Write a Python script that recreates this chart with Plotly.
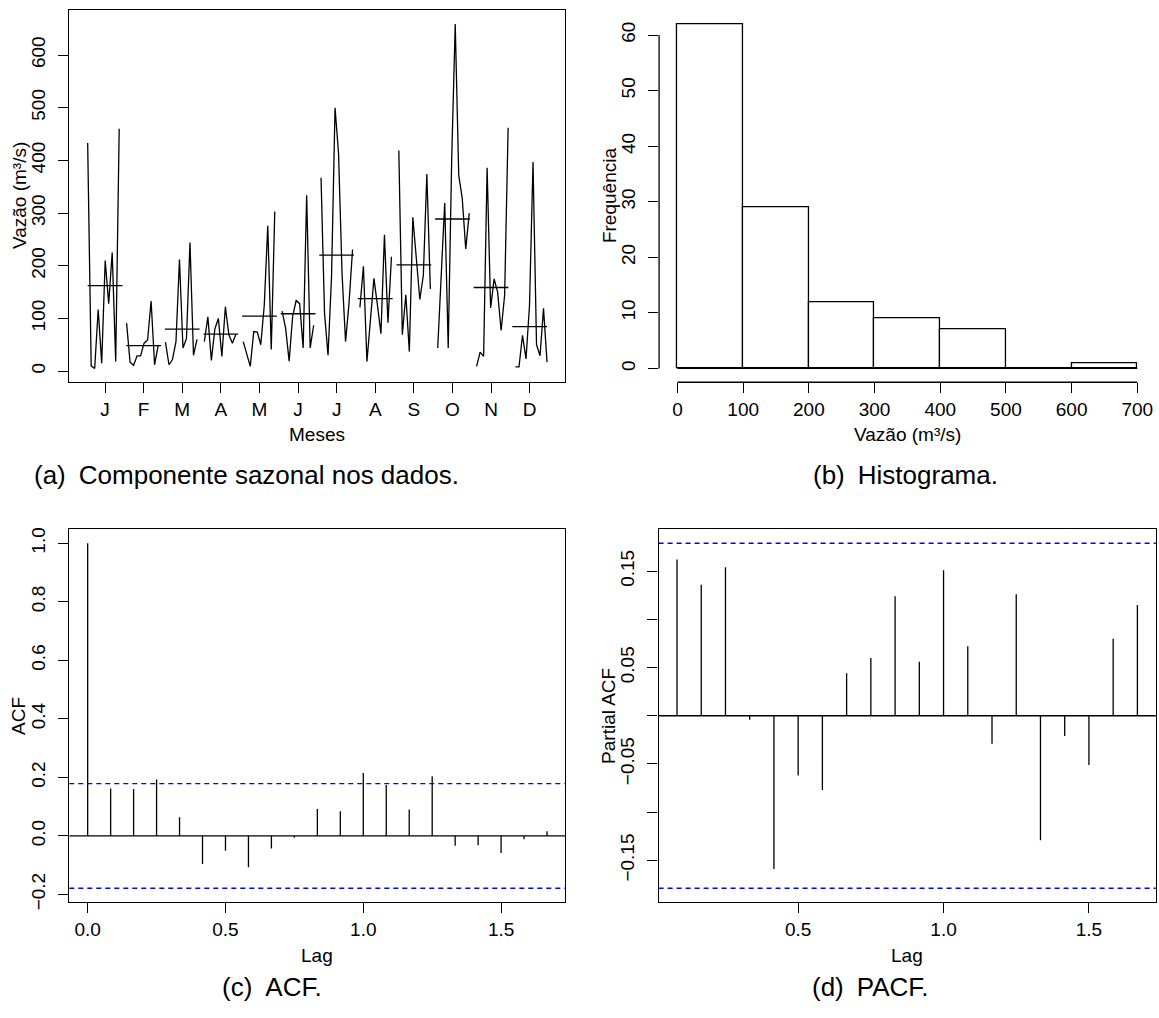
import numpy as np
import plotly.graph_objects as go

# ---- data -------------------------------------------------------------
month_labels = ["J", "F", "M", "A", "M", "J", "J", "A", "S", "O", "N", "D"]

# monthly flow (m³/s), ten years per calendar month
flow_jan = [433, 10, 5, 117, 15, 210, 128, 225, 18, 460]
flow_feb = [91, 17, 11, 29, 29, 53, 59, 133, 12, 48]
flow_mar = [55, 12, 22, 56, 212, 44, 62, 244, 30, 60]
flow_apr = [56, 103, 20, 80, 100, 28, 122, 69, 53, 70]
flow_may = [56, 34, 9, 75, 74, 50, 125, 276, 41, 303]
flow_jun = [114, 81, 19, 104, 134, 128, 44, 334, 44, 87]
flow_jul = [367, 110, 30, 180, 500, 413, 185, 56, 130, 231]
flow_aug = [121, 199, 18, 98, 176, 125, 71, 259, 92, 217]
flow_sep = [419, 69, 145, 37, 292, 205, 136, 182, 374, 156]
flow_oct = [44, 185, 319, 44, 405, 659, 372, 328, 232, 300]
flow_nov = [9, 36, 28, 386, 120, 175, 150, 77, 144, 462]
flow_dec = [8, 8, 68, 23, 125, 397, 50, 29, 119, 17]
flow_by_month = [flow_jan, flow_feb, flow_mar, flow_apr, flow_may, flow_jun,
                 flow_jul, flow_aug, flow_sep, flow_oct, flow_nov, flow_dec]

hist_breaks = [0, 100, 200, 300, 400, 500, 600, 700]
hist_freq = [62, 29, 12, 9, 7, 0, 1]

acf_vals = [1.000, 0.162, 0.160, 0.193, 0.064, -0.096, -0.051, -0.107, -0.043,
            -0.006, 0.092, 0.084, 0.215, 0.174, 0.090, 0.204, -0.034, -0.032,
            -0.058, -0.011, 0.016]
pacf_vals = [0.162, 0.136, 0.154, -0.004, -0.159, -0.062, -0.077, 0.044, 0.060,
             0.124, 0.056, 0.151, 0.072, -0.029, 0.126, -0.129, -0.021, -0.051,
             0.080, 0.115]

# ---- page geometry (pixels) ------------------------------------------
W, H = 1159, 1018
FONT = "Liberation Sans, Arial, Helvetica, sans-serif"
LW = 1.3
FS = 19
CAP = 26


def fx(x):
    return x / W


def fy(y):
    return 1 - y / H


def ext(lo, hi):
    d = 0.04 * (hi - lo)
    return [lo - d, hi + d]


box_a = (69.3, 565.4, 8.3, 384.0)
box_b = (659.1, 1155.7, 8.3, 384.0)
box_c = (69.3, 565.4, 532.7, 909.0)
box_d = (658.6, 1155.8, 532.7, 909.0)

fig = go.Figure()

# ---- (a) month plot ---------------------------------------------------
n_years = len(flow_jan)
n_obs = 12 * n_years
xs, ys, mx, my = [], [], [], []
for i, vals in enumerate(flow_by_month, start=1):
    for yr, v in enumerate(vals):
        k = 12 * yr + (i - 1)
        xs.append(i - 0.45 + 0.9 * k / (n_obs - 1))
        ys.append(v)
    xs.append(None)
    ys.append(None)
    m = float(np.mean(vals))
    mx += [i - 0.45, i + 0.45, None]
    my += [m, m, None]

fig.add_trace(go.Scatter(x=xs, y=ys, mode="lines", line=dict(color="black", width=LW),
                         xaxis="x", yaxis="y", showlegend=False, connectgaps=False))
fig.add_trace(go.Scatter(x=mx, y=my, mode="lines", line=dict(color="black", width=LW),
                         xaxis="x", yaxis="y", showlegend=False, connectgaps=False))

all_flow = [v for vals in flow_by_month for v in vals]

# ---- (b) histogram ----------------------------------------------------
centers = [(hist_breaks[j] + hist_breaks[j + 1]) / 2 for j in range(len(hist_freq))]
fig.add_trace(go.Bar(x=centers, y=hist_freq, width=100,
                     marker=dict(color="white", line=dict(color="black", width=LW)),
                     xaxis="x2", yaxis="y2", showlegend=False))

# ---- (c) ACF / (d) PACF -----------------------------------------------
def spikes(lags, vals):
    xx, yy = [], []
    for l, v in zip(lags, vals):
        xx += [l, l, None]
        yy += [0, v, None]
    return xx, yy


acf_lags = [k / 12 for k in range(len(acf_vals))]
pacf_lags = [k / 12 for k in range(1, len(pacf_vals) + 1)]
ax_, ay_ = spikes(acf_lags, acf_vals)
px_, py_ = spikes(pacf_lags, pacf_vals)
fig.add_trace(go.Scatter(x=ax_, y=ay_, mode="lines", line=dict(color="black", width=LW),
                         xaxis="x3", yaxis="y3", showlegend=False))
fig.add_trace(go.Scatter(x=px_, y=py_, mode="lines", line=dict(color="black", width=LW),
                         xaxis="x4", yaxis="y4", showlegend=False))

ci = 1.959964 / np.sqrt(n_obs)

shapes = []
for xr, yr in (("x3", "y3"), ("x4", "y4")):
    shapes.append(dict(type="line", xref=f"{xr} domain", yref=yr, x0=0, x1=1, y0=0, y1=0,
                       line=dict(color="black", width=LW)))
    for s in (1, -1):
        shapes.append(dict(type="line", xref=f"{xr} domain", yref=yr, x0=0, x1=1,
                           y0=s * ci, y1=s * ci,
                           line=dict(color="blue", width=LW, dash="5px,4px")))
# histogram: baseline under the bins and axes spanning only the tick range
shapes.append(dict(type="line", xref="x2", yref="y2", x0=hist_breaks[0], x1=hist_breaks[-1],
                   y0=0, y1=0, line=dict(color="black", width=LW)))
shapes.append(dict(type="line", xref="x2 domain", yref="y2", x0=0, x1=0, y0=0, y1=60,
                   line=dict(color="black", width=LW)))
shapes.append(dict(type="line", xref="x2", yref="y2 domain", x0=0, x1=700, y0=0, y1=0,
                   line=dict(color="black", width=LW)))

# ---- axes -------------------------------------------------------------
def axis(box, horizontal, rng, tickvals, ticktext=None, frame=True):
    x0, x1, y0, y1 = box
    d = dict(range=rng, domain=[fx(x0), fx(x1)] if horizontal else [fy(y1), fy(y0)],
             showgrid=False, zeroline=False, ticks="outside", ticklen=10, tickwidth=LW,
             tickcolor="black", tickvals=tickvals, ticklabeloverflow="allow",
             tickfont=dict(family=FONT, size=FS, color="black"), fixedrange=True)
    if ticktext is not None:
        d["ticktext"] = ticktext
    if frame:
        d.update(showline=True, linecolor="black", linewidth=LW, mirror=True)
    else:
        d.update(showline=False)
    if not horizontal:
        d["tickangle"] = -90
        d["ticklabelstandoff"] = 6
    return d


ylo, yhi = ext(min(all_flow), max(all_flow))
lay = dict(
    xaxis=axis(box_a, True, ext(0.55, 12.45), list(range(1, 13)), month_labels),
    yaxis=axis(box_a, False, [ylo, yhi], list(range(0, 700, 100))),
    xaxis2=axis(box_b, True, ext(hist_breaks[0], hist_breaks[-1]), hist_breaks, frame=False),
    yaxis2=axis(box_b, False, ext(0, max(hist_freq)), list(range(0, 70, 10)), frame=False),
    xaxis3=axis(box_c, True, ext(0, acf_lags[-1]), [0, 0.5, 1.0, 1.5], ["0.0", "0.5", "1.0", "1.5"]),
    yaxis3=axis(box_c, False, ext(min(min(acf_vals), -ci), max(max(acf_vals), ci)),
                [-0.2, 0.0, 0.2, 0.4, 0.6, 0.8, 1.0],
                ["\u22120.2", "0.0", "0.2", "0.4", "0.6", "0.8", "1.0"]),
    xaxis4=axis(box_d, True, ext(pacf_lags[0], pacf_lags[-1]), [0.5, 1.0, 1.5], ["0.5", "1.0", "1.5"]),
    yaxis4=axis(box_d, False, ext(min(min(pacf_vals), -ci), max(max(pacf_vals), ci)),
                [-0.15, -0.10, -0.05, 0.0, 0.05, 0.10, 0.15],
                ["\u22120.15", "", "\u22120.05", "", "0.05", "", "0.15"]),
)
for n in ("", "2", "3", "4"):
    lay[f"xaxis{n}"]["anchor"] = f"y{n}"
    lay[f"yaxis{n}"]["anchor"] = f"x{n}"

# ---- text -------------------------------------------------------------
def label(text, x, y, angle=0, size=FS):
    return dict(text=text, x=fx(x), y=fy(y), xref="paper", yref="paper",
                xanchor="center", yanchor="middle", showarrow=False, textangle=angle,
                font=dict(family=FONT, size=size, color="black"))


annotations = [
    label("Meses", 317, 437),
    label("Vazão (m³/s)", 19, 196, -90),
    label("Vazão (m³/s)", 907, 437),
    label("Frequência", 609, 196, -90),
    label("Lag", 317, 963),
    label("ACF", 19, 721, -90),
    label("Lag", 907, 963),
    label("Partial ACF", 609, 721, -90),
    label("(a)\u2002Componente sazonal nos dados.", 247, 478, size=CAP),
    label("(b)\u2002Histograma.", 905, 478, size=CAP),
    label("(c)\u2002ACF.", 272, 995, size=CAP),
    label("(d)\u2002PACF.", 870, 995, size=CAP),
]

fig.update_layout(
    width=W, height=H, margin=dict(l=0, r=0, t=0, b=0),
    paper_bgcolor="white", plot_bgcolor="white",
    shapes=shapes, annotations=annotations, bargap=0, showlegend=False,
    **lay,
)

fig.write_html("out.html", config={"displayModeBar": False})
